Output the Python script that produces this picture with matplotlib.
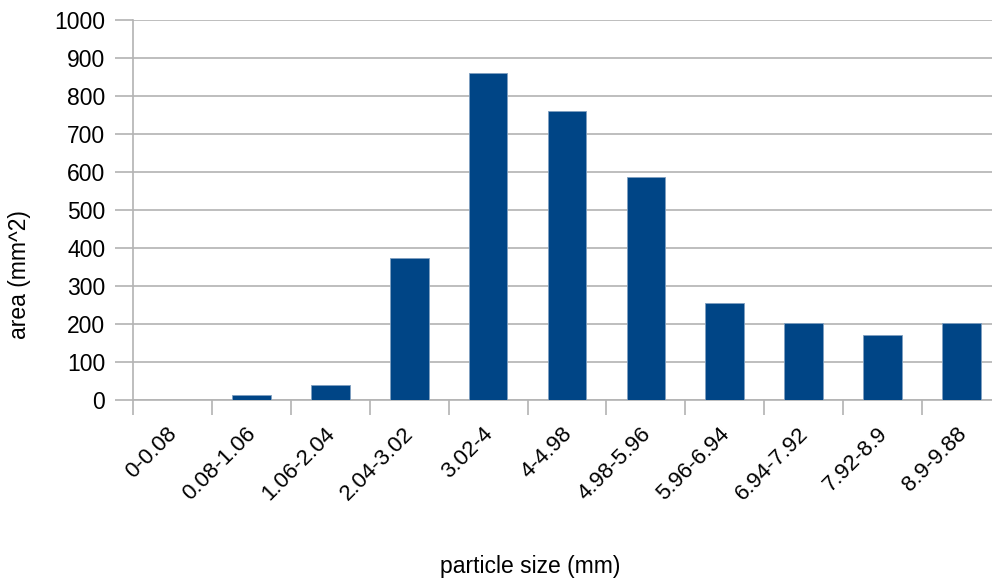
import matplotlib.pyplot as plt
import matplotlib.transforms as mtransforms
import numpy as np

plt.rcParams['font.family'] = ['Liberation Sans', 'DejaVu Sans']

sizes = ["0-0.08", "0.08-1.06", "1.06-2.04", "2.04-3.02", "3.02-4", "4-4.98",
         "4.98-5.96", "5.96-6.94", "6.94-7.92", "7.92-8.9", "8.9-9.88"]
area = [0, 12, 39, 374, 860, 760, 587, 254, 202, 170, 202]
yticks = list(range(0, 1001, 100))

W, H = 992, 581
fig = plt.figure(figsize=(W / 100, H / 100), dpi=100)
ax = fig.add_axes([133 / W, (H - 400) / H, (1001 - 133) / W, (400 - 20) / H])

x = np.arange(len(sizes))
ax.bar(x, area, width=0.49, color="#004586", edgecolor="#7f9fc0", linewidth=0.6, zorder=3)

ax.set_xlim(-0.5, len(sizes) - 0.5)
ax.set_ylim(0, 1000)
ax.set_yticks(yticks)
ax.set_yticklabels([str(v) for v in yticks], fontsize=16.5, color="#000000")
ax.yaxis.grid(True, color="#b3b3b3", linewidth=1.2, zorder=0)
ax.set_axisbelow(True)

# boundary ticks (major), labels on category centres (minor)
ax.set_xticks(np.arange(len(sizes) + 1) - 0.5)
ax.set_xticklabels([])
ax.set_xticks(x, minor=True)
ax.set_xticklabels(sizes, minor=True, rotation=45, ha="right", va="top",
                   fontsize=16, color="#000000")
ax.tick_params(axis="x", which="major", length=11, width=1.2, color="#b3b3b3")
ax.tick_params(axis="x", which="minor", length=0, pad=17)
ax.tick_params(axis="y", length=13, width=1.2, color="#b3b3b3", pad=7)

shift = mtransforms.ScaledTranslation(9 / 100, 0, fig.dpi_scale_trans)
for lab in ax.get_xticklabels(minor=True):
    lab.set_transform(lab.get_transform() + shift)

for s in ["top", "right"]:
    ax.spines[s].set_visible(False)
for s in ["left", "bottom"]:
    ax.spines[s].set_color("#b3b3b3")
    ax.spines[s].set_linewidth(1.2)

fig.text(20 / W, 1 - 275 / H, "area (mm^2)", rotation=90, ha="center", va="center",
         fontsize=16.5, color="#000000")
fig.text(530 / W, 1 - 567 / H, "particle size (mm)", ha="center", va="center",
         fontsize=16.5, color="#000000")

fig.savefig("out.png", dpi=100)
